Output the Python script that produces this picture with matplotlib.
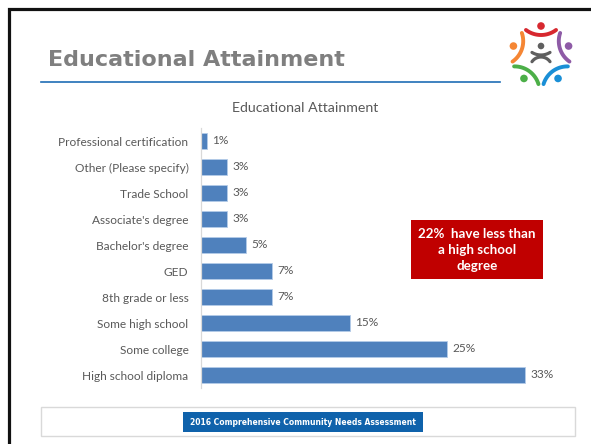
import numpy as np
import matplotlib
matplotlib.use('Agg')
import matplotlib.pyplot as plt
from matplotlib.patches import Rectangle, Circle

# data (top to bottom as on the slide)
categories = ["Professional certification", "Other (Please specify)", "Trade School",
              "Associate's degree", "Bachelor's degree", "GED", "8th grade or less",
              "Some high school", "Some college", "High school diploma"]
values = [0.6, 2.6, 2.6, 2.6, 4.6, 7.2, 7.2, 15.1, 24.9, 32.8]

W, H = 591, 444
plt.rcParams['font.family'] = ['Lato', 'DejaVu Sans']
fig = plt.figure(figsize=(W / 100, H / 100), dpi=100)

# slide background in pixel coords
bg = fig.add_axes([0, 0, 1, 1])
bg.set_xlim(0, W)
bg.set_ylim(H, 0)
bg.axis('off')

# black frame (left + top)
bg.plot([8.5, 8.5, W + 5], [H + 5, 9.5, 9.5], color='#111111', lw=2.3, solid_joinstyle='miter')

# slide title + rule
bg.text(48, 60, "Educational Attainment", fontsize=16, fontweight='bold', color='#7f7f7f',
        ha='left', va='center', family='DejaVu Sans')
bg.plot([41, 500], [82, 82], color='#1f6db5', lw=1.2)

# logo
def arc(cx, cy, r, a0, a1, n=40):
    a = np.radians(np.linspace(a0, a1, n))
    return cx + r * np.cos(a), cy - r * np.sin(a)

C = (541, 55)
people = [(90, '#d7282f'), (18, '#8e5ba6'), (-54, '#1a8fd6'), (-126, '#4caf48'), (162, '#f58634')]
for th, col in people:
    t = np.radians(th)
    dx, dy = np.cos(t), -np.sin(t)
    bg.add_patch(Circle((C[0] + 29 * dx, C[1] + 29 * dy), 3.8, color=col, lw=0))
    xs, ys = arc(C[0] + 45 * dx, C[1] + 45 * dy, 25, th + 180 - 37, th + 180 + 37)
    bg.plot(xs, ys, color=col, lw=2.8, solid_capstyle='round')
bg.add_patch(Circle((541, 46), 3.3, color='#5f5f5f', lw=0))
xs, ys = arc(541, 38, 17, 238, 302)
bg.plot(xs, ys, color='#5f5f5f', lw=2.3, solid_capstyle='round')
xs, ys = arc(541, 68, 11, 35, 145)
bg.plot(xs, ys, color='#5f5f5f', lw=2.3, solid_capstyle='round')

# chart title
bg.text(305, 108, "Educational Attainment", fontsize=10.2, color='#595959', ha='center', va='center')

# footer
bg.add_patch(Rectangle((41, 407), 534, 29, facecolor='white', edgecolor='#d9d9d9', lw=1))
bg.add_patch(Rectangle((183, 412), 240, 20, facecolor='#0f62ab', edgecolor='none'))
bg.text(303, 422.5, "2016 Comprehensive Community Needs Assessment", fontsize=5.5,
        fontweight='bold', color='white', ha='center', va='center', family='DejaVu Sans')

# bar chart
xmax = 36
x0, x1 = 201, 201 + xmax * 9.87
ax = fig.add_axes([x0 / W, 1 - 388 / H, (x1 - x0) / W, (388 - 128) / H])
ax.patch.set_visible(False)
y = np.arange(len(categories))
ax.barh(y, values, height=0.58, color='#4f81bd', edgecolor='#b4cbe8', lw=0.6)
for yi, v in zip(y, values):
    ax.text(v + 0.55, yi, f"{v:.0f}%", fontsize=8.6, color='#595959', va='center', ha='left')
ax.set_xlim(0, xmax)
ax.set_ylim(len(categories) - 0.5, -0.5)
ax.set_yticks(y)
ax.set_yticklabels(categories, fontsize=8.6, color='#595959')
ax.tick_params(axis='y', length=0, pad=9)
ax.set_xticks([])
for s in ['top', 'right', 'bottom']:
    ax.spines[s].set_visible(False)
ax.spines['left'].set_color('#d9d9d9')
ax.spines['left'].set_linewidth(0.9)

# callout box
bg.add_patch(Rectangle((411, 220), 132, 59, facecolor='#c00000', edgecolor='none', zorder=5))
bg.text(477, 250, "22%  have less than\na high school\ndegree", fontsize=9.6, fontweight='bold',
        color='white', ha='center', va='center', linespacing=1.36, zorder=6)

plt.savefig("out.png", dpi=100, facecolor='white')
plt.close()
